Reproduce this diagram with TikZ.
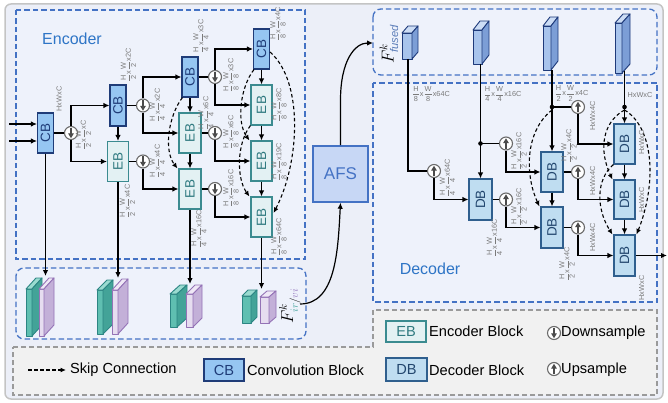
\documentclass[tikz,border=0pt]{standalone}
\usepackage{amsmath}
\usepackage{graphicx}
\usepackage{fontspec}
\setmainfont{Liberation Sans}
\usetikzlibrary{arrows.meta}
\definecolor{cbfill}{HTML}{96C6F2}
\definecolor{cbdraw}{HTML}{1F3C78}
\definecolor{ebfill}{HTML}{E3F1F3}
\definecolor{ebdraw}{HTML}{3B8B90}
\definecolor{ebtext}{HTML}{2F7A80}
\definecolor{dbfill}{HTML}{BFDDF1}
\definecolor{dbdraw}{HTML}{2F5F8E}
\definecolor{dbtext}{HTML}{22466E}
\definecolor{afsfill}{HTML}{C7D7F5}
\definecolor{dashblue}{HTML}{4472C4}
\definecolor{titleblue}{HTML}{2E75C6}
\definecolor{bgouter}{HTML}{ECEFF8}
\definecolor{boxfill}{HTML}{EEF2FB}
\definecolor{legfill}{HTML}{F1F1F1}
\definecolor{leggray}{HTML}{9A9A9A}
\definecolor{framegray}{HTML}{C4C4C4}
\definecolor{labgray}{HTML}{7A7A7A}
\definecolor{circdraw}{HTML}{6B6B6B}
\definecolor{tealfrontc}{HTML}{5FBFB1}
\definecolor{tealsidec}{HTML}{43A398}
\definecolor{tealtopc}{HTML}{9ADBD0}
\definecolor{tealdrawc}{HTML}{2C8583}
\definecolor{purpfrontc}{HTML}{E6DDF0}
\definecolor{purpsidec}{HTML}{C3B0D8}
\definecolor{purptopc}{HTML}{EFE8F6}
\definecolor{purpdrawc}{HTML}{9473B6}
\definecolor{bluefrontc}{HTML}{A8C4EC}
\definecolor{bluesidec}{HTML}{7C9ED6}
\definecolor{bluetopc}{HTML}{CCDDF5}
\definecolor{bluedrawc}{HTML}{1E3A7A}
\definecolor{irc}{HTML}{4AA6A0}
\definecolor{vic}{HTML}{9A80C2}
\definecolor{fusedc}{HTML}{5B7DB8}
\newcommand{\dl}[5]{$\dfrac{\text{#1}}{\text{#2}}$x$\dfrac{\text{#3}}{\text{#4}}$x#5}
\newcommand{\rt}[1]{\rotatebox{90}{#1}}
\newcommand{\prismbox}[7]{%
  \draw[#1front] (#2,#3) rectangle ++(#4,#5);
  \draw[#1top] (#2,#3) -- ++(#6,-#7) -- ++(#4,0) -- ++(-#6,#7) -- cycle;
  \draw[#1side] ({#2+#4},#3) -- ++(#6,-#7) -- ++(0,#5) -- ++(-#6,#7) -- cycle;
}
\tikzset{
  conn/.style={line width=1.2pt, draw=black},
  arr/.style={conn, -{Latex[length=6pt,width=5.5pt]}},
  skip/.style={line width=1.1pt, draw=black, dash pattern=on 3.5pt off 2.5pt, -{Latex[length=5.5pt,width=5pt]}},
  blk/.style={rectangle, line width=1.1pt, inner sep=0pt, font=\fontsize{13.5}{13.5}\selectfont},
  cbbox/.style={blk, draw=cbdraw, fill=cbfill, text=cbdraw, minimum width=16pt, minimum height=40pt},
  ebbox/.style={blk, draw=ebdraw, fill=ebfill, text=ebtext, minimum width=21pt, minimum height=40pt},
  dbbox/.style={blk, draw=dbdraw, fill=dbfill, text=dbtext, minimum width=22pt, minimum height=40pt},
  updown/.style={circle, draw=circdraw, fill=white, line width=1.1pt, minimum size=13pt, inner sep=0pt},
  downs/.style={updown, path picture={\draw[line width=1.3pt, draw=circdraw!70!black, -{Triangle[length=5pt,width=5.5pt]}] ([yshift=-1.2pt]path picture bounding box.north) -- ([yshift=1.2pt]path picture bounding box.south);}},
  ups/.style={updown, path picture={\draw[line width=1.3pt, draw=circdraw!70!black, -{Triangle[length=5pt,width=5.5pt]}] ([yshift=1.2pt]path picture bounding box.south) -- ([yshift=-1.2pt]path picture bounding box.north);}},
  lab/.style={font=\fontsize{7.3}{8}\selectfont, text=labgray, inner sep=0pt},
  rlab/.style={lab, rotate=90},
  dbox/.style={draw=dashblue, fill=boxfill, line width=1.3pt, dash pattern=on 5.5pt off 3pt},
  title/.style={font=\fontsize{16}{16}\selectfont, text=titleblue},
  legtext/.style={font=\fontsize{14.6}{15}\selectfont, anchor=west, inner sep=0pt},
  tealfront/.style={fill=tealfrontc, draw=tealdrawc, line width=0.9pt, line join=round},
  tealtop/.style={fill=tealtopc, draw=tealdrawc, line width=0.9pt, line join=round},
  tealside/.style={fill=tealsidec, draw=tealdrawc, line width=0.9pt, line join=round},
  purpfront/.style={fill=purpfrontc, draw=purpdrawc, line width=0.9pt, line join=round},
  purptop/.style={fill=purptopc, draw=purpdrawc, line width=0.9pt, line join=round},
  purpside/.style={fill=purpsidec, draw=purpdrawc, line width=0.9pt, line join=round},
  bluefront/.style={fill=bluefrontc, draw=bluedrawc, line width=0.9pt, line join=round},
  bluetop/.style={fill=bluetopc, draw=bluedrawc, line width=0.9pt, line join=round},
  blueside/.style={fill=bluesidec, draw=bluedrawc, line width=0.9pt, line join=round},
}
\begin{document}
\begin{tikzpicture}[x=1pt,y=-1pt]
\useasboundingbox (0,0) rectangle (668,403);
% frame and regions
\draw[draw=framegray, line width=1.5pt, fill=bgouter, rounded corners=6pt] (5,4) rectangle (663,399);
\draw[draw=leggray, fill=legfill, line width=1.2pt, dash pattern=on 5pt off 3pt] (13,347) -- (373,347) -- (373,310) -- (657,310) -- (657,395) -- (13,395) -- cycle;
\draw[dbox] (16,10) rectangle (305,259);
\draw[dbox, rounded corners=8pt] (16,268) rectangle (306,339);
\draw[dbox, rounded corners=8pt] (373,9) rectangle (657,75);
\draw[dbox] (373,83) rectangle (657,302);
\node[title] (enc) at (72,39) {Encoder};
\node[title] (dec) at (430,268.5) {Decoder};

% ---------------- Encoder ----------------
\node[cbbox] (CB1) at (45.5,133) {\rt{CB}};
\node[cbbox, minimum height=41pt] (CB2) at (118,105.5) {\rt{CB}};
\node[ebbox] (EB1) at (118,161.5) {\rt{EB}};
\node[cbbox] (CB3) at (190,77) {\rt{CB}};
\node[ebbox, minimum width=22pt] (EB2) at (190,133) {\rt{EB}};
\node[ebbox, minimum width=22pt] (EB3) at (190,189) {\rt{EB}};
\node[cbbox] (CB4) at (261.5,49) {\rt{CB}};
\node[ebbox] (EB4) at (261.5,105) {\rt{EB}};
\node[ebbox] (EB5) at (261.5,161) {\rt{EB}};
\node[ebbox] (EB6) at (261.5,217) {\rt{EB}};
\node[downs] (D1) at (71,133) {};
\node[downs] (D2) at (143,105.5) {};
\node[downs] (D3) at (143,161.5) {};
\node[downs] (D4) at (215,77) {};
\node[downs] (D5) at (215,133) {};
\node[downs] (D6) at (215,189) {};
\coordinate (in1) at (9,124);
\coordinate (in2) at (9,141);
\draw[arr] (in1) -- (in1 -| CB1.west);
\draw[arr] (in2) -- (in2 -| CB1.west);
\draw[conn] (CB1.east) -- (D1.west);
\draw[arr] (D1.north) |- (CB2.west);
\draw[arr] (D1.south) |- (EB1.west);
\draw[arr] (CB2.south) -- (EB1.north);
\draw[conn] (CB2.east) -- (D2.west);
\draw[arr] (D2.north) |- (CB3.west);
\draw[arr] (D2.south) |- (EB2.west);
\draw[conn] (EB1.east) -- (D3.west);
\draw[arr] (D3.south) |- (EB3.west);
\draw[arr] (CB3.south) -- (EB2.north);
\draw[arr] (EB2.south) -- (EB3.north);
\draw[conn] (CB3.east) -- (D4.west);
\draw[arr] (D4.north) |- (CB4.west);
\draw[arr] (D4.south) |- (EB4.west);
\draw[conn] (EB2.east) -- (D5.west);
\draw[arr] (D5.south) |- (EB5.west);
\draw[conn] (EB3.east) -- (D6.west);
\draw[arr] (D6.south) |- (EB6.west);
\draw[arr] (CB4.south) -- (EB4.north);
\draw[arr] (EB4.south) -- (EB5.north);
\draw[arr] (EB5.south) -- (EB6.north);
% skip connections (encoder)
\draw[skip] ([xshift=1pt]CB3.south west) .. controls +(-14,18) and +(-14,-18) .. ([xshift=-1pt]EB3.north west);
\draw[skip] ([xshift=1pt]CB4.south west) .. controls +(-14,18) and +(-13,-18) .. ([xshift=-1pt]EB5.north west);
\draw[skip] (EB4.south west) .. controls +(-14,18) and +(-13,-18) .. ([xshift=-1pt]EB6.north west);
\draw[skip] ([yshift=-3pt]CB4.east) .. controls +(34,30) and +(26,-50) .. ([xshift=1pt,yshift=4pt]EB6.east);
% encoder dimension labels
\node[rlab] at (59,99) {HxWxC};
\node[rlab] at (83.5,135) {\dl{H}{2}{W}{2}{C}};
\node[rlab] at (128.5,65) {\dl{H}{2}{W}{2}{2C}};
\node[rlab] at (157.5,105.5) {\dl{H}{4}{W}{4}{2C}};
\node[rlab] at (157.5,161.5) {\dl{H}{4}{W}{4}{4C}};
\node[rlab] at (127.5,201.5) {\dl{H}{2}{W}{2}{4C}};
\node[rlab] at (201,36.5) {\dl{H}{4}{W}{4}{3C}};
\node[rlab] at (206,113.5) {\dl{H}{4}{W}{4}{6C}};
\node[rlab] at (231,75.5) {\dl{H}{8}{W}{8}{3C}};
\node[rlab] at (231,132.5) {\dl{H}{8}{W}{8}{6C}};
\node[rlab] at (231,188.5) {\dl{H}{8}{W}{8}{16C}};
\node[rlab] at (199,229) {\dl{H}{4}{W}{4}{16C}};
\node[rlab] at (278,24) {\dl{H}{8}{W}{8}{4C}};
\node[rlab] at (279,105) {\dl{H}{8}{W}{8}{8C}};
\node[rlab] at (279,162) {\dl{H}{8}{W}{8}{19C}};
\node[rlab] at (279,237) {\dl{H}{8}{W}{8}{64C}};

% ---------------- Encoder feature maps ----------------
\prismbox{teal}{26}{289}{6}{47}{10}{11}
\prismbox{purp}{39}{289}{5}{47}{10}{11}
\prismbox{teal}{97}{290}{6}{44}{10}{10}
\prismbox{purp}{112}{290}{6}{44}{10}{11}
\prismbox{teal}{170}{294}{7}{33}{10}{9}
\prismbox{purp}{186}{294}{7}{33}{9}{9}
\prismbox{teal}{242}{296}{9}{27}{6}{6}
\prismbox{purp}{260}{297}{9}{26}{7}{6}
\coordinate (M1) at (45.5,276);
\coordinate (M2) at (118,278);
\coordinate (M3) at (190,284);
\coordinate (M4) at (261.5,289);
\draw[arr] (CB1.south) -- (M1);
\draw[arr] (EB1.south) -- (M2);
\draw[arr] (EB3.south) -- (M3);
\draw[arr] (EB6.south) -- (M4);
\node[rotate=90, font=\fontsize{16}{16}\selectfont, inner sep=0pt] (Fir) at (290,306) {$F^{k}_{\textcolor{irc}{ir}/\textcolor{vic}{vi}}$};

% ---------------- AFS ----------------
\node[draw=dashblue, fill=afsfill, line width=1.5pt, minimum width=55pt, minimum height=56pt, inner sep=0pt, font=\fontsize{17}{17}\selectfont, text=dashblue] (AFS) at (340.5,174) {AFS};
\coordinate (c1) at (300,304);
\draw[arr] (c1) .. controls (336,304) and (338,250) .. (AFS.south);
\coordinate (ffin) at (373,43);
\draw[arr] (AFS.north) -- ++(0,-45) .. controls +(0,-40) and +(-18,0) .. (ffin);
\node[rotate=90, font=\fontsize{16}{16}\selectfont, inner sep=0pt] (Ffu) at (389,44) {$F^{k}_{\textcolor{fusedc}{\mathit{fused}}}$};

% ---------------- Decoder feature maps ----------------
\prismbox{blue}{402}{33}{10}{26}{6}{7}
\prismbox{blue}{473}{30}{9}{34}{7}{9}
\prismbox{blue}{543}{26}{8}{44}{7}{9}
\prismbox{blue}{615}{23}{7}{50}{8}{9}
\coordinate (F1) at (408,59);
\coordinate (F2) at (480.5,64);
\coordinate (F3) at (552,70);
\coordinate (F4) at (624.5,71);

% ---------------- Decoder ----------------
\node[dbbox, minimum width=23pt, minimum height=41pt] (DB1) at (480.5,199.5) {\rt{DB}};
\node[dbbox] (DB2) at (552,172) {\rt{DB}};
\node[dbbox, minimum height=41pt] (DB3) at (552,227.5) {\rt{DB}};
\node[dbbox, minimum width=21pt] (DB4) at (624.5,144) {\rt{DB}};
\node[dbbox, minimum width=21pt, minimum height=39pt] (DB5) at (624.5,199.5) {\rt{DB}};
\node[dbbox, minimum width=21pt, minimum height=41pt] (DB6) at (624.5,255.5) {\rt{DB}};
\node[ups] (U1) at (434,171) {};
\node[ups] (U2) at (506,143.5) {};
\node[ups] (U3) at (506,199.5) {};
\node[ups] (U4) at (578,107) {};
\node[ups] (U5) at (578,172) {};
\node[ups] (U6) at (578,227.5) {};
\coordinate (J2) at (480.5,143.5);
\coordinate (J3) at (552,107);
\coordinate (J4) at (624.5,107);
\draw[conn] (F1) |- (U1.west);
\draw[arr] (U1.south) |- (DB1.west);
\draw[arr] (F2) -- (DB1.north);
\draw[conn] (J2) -- (U2.west);
\draw[arr] (U2.south) |- (DB2.west);
\draw[conn] (DB1.east) -- (U3.west);
\draw[arr] (U3.south) |- (DB3.west);
\draw[arr] (F3) -- (DB2.north);
\draw[conn] (J3) -- (U4.west);
\draw[arr] (U4.south) |- (DB4.west);
\draw[conn] (DB2.east) -- (U5.west);
\draw[arr] (U5.south) |- (DB5.west);
\draw[conn] (DB3.east) -- (U6.west);
\draw[arr] (U6.south) |- (DB6.west);
\draw[arr] (F4) -- (DB4.north);
\draw[arr] (DB2.south) -- (DB3.north);
\draw[arr] (DB4.south) -- (DB5.north);
\draw[arr] (DB5.south) -- (DB6.north);
\coordinate (out) at (667,255.5);
\draw[arr] (DB6.east) -- (out);
\fill (J2) circle (2.3pt);
\fill (J3) circle (2.3pt);
\fill (J4) circle (2.3pt);
% skip connections (decoder)
\draw[skip] ([yshift=-3pt]J3) .. controls +(-28,22) and +(-14,-30) .. ([xshift=-1pt]DB3.north west);
\draw[skip] ([yshift=-3pt]J4) .. controls +(-22,12) and +(-14,-30) .. ([xshift=-1pt]DB5.north west);
\draw[skip] ([yshift=-3pt]J4) .. controls +(30,18) and +(20,-50) .. ([xshift=1pt]DB6.north east);
\draw[skip] (DB4.south west) .. controls +(-18,15) and +(-16,-25) .. ([xshift=-1pt]DB6.north west);
% decoder dimension labels
\node[lab] at (431,94) {\dl{H}{8}{W}{8}{64C}};
\node[lab] at (502.5,94) {\dl{H}{4}{W}{4}{16C}};
\node[lab] at (571.5,93.5) {\dl{H}{2}{W}{2}{4C}};
\node[lab] at (640,95) {HxWxC};
\node[rlab] at (447.5,178) {\dl{H}{4}{W}{4}{64C}};
\node[rlab] at (519,151.5) {\dl{H}{2}{W}{2}{16C}};
\node[rlab] at (519,207) {\dl{H}{2}{W}{2}{16C}};
\node[rlab] at (494.5,238) {\dl{H}{4}{W}{4}{16C}};
\node[rlab] at (592.5,116) {HxWx4C};
\node[rlab] at (569,146) {\dl{H}{2}{W}{2}{4C}};
\node[rlab] at (592.5,181) {HxWx4C};
\node[rlab] at (592.5,237.5) {HxWx4C};
\node[rlab] at (567,264) {\dl{H}{2}{W}{2}{4C}};
\node[rlab] at (641.5,142.5) {HxWxC};
\node[rlab] at (641.5,200) {HxWxC};
\node[rlab] at (641.5,288) {HxWxC};

% ---------------- Legend ----------------
\coordinate (sk1) at (28,370);
\coordinate (sk2) at (66,370);
\draw[skip] (sk1) -- (sk2);
\node[legtext] (tsk) at (70,370) {Skip Connection};
\node[cbbox, minimum width=40pt, minimum height=22pt, font=\fontsize{14.6}{15}\selectfont] (LCB) at (224,370) {CB};
\node[legtext] (tcb) at (247,370) {Convolution Block};
\node[ebbox, minimum width=40pt, minimum height=21pt, font=\fontsize{14.6}{15}\selectfont] (LEB) at (406,331.5) {EB};
\node[legtext] (teb) at (429,331.5) {Encoder Block};
\node[dbbox, minimum width=41pt, minimum height=23pt, font=\fontsize{14.6}{15}\selectfont] (LDB) at (406.5,369.5) {DB};
\node[legtext] (tdb) at (429,370) {Decoder Block};
\node[downs] (LD) at (554,333) {};
\node[legtext] (tds) at (561,333) {Downsample};
\node[ups] (LU) at (554,369) {};
\node[legtext] (tus) at (561,370) {Upsample};
\end{tikzpicture}
\end{document}
